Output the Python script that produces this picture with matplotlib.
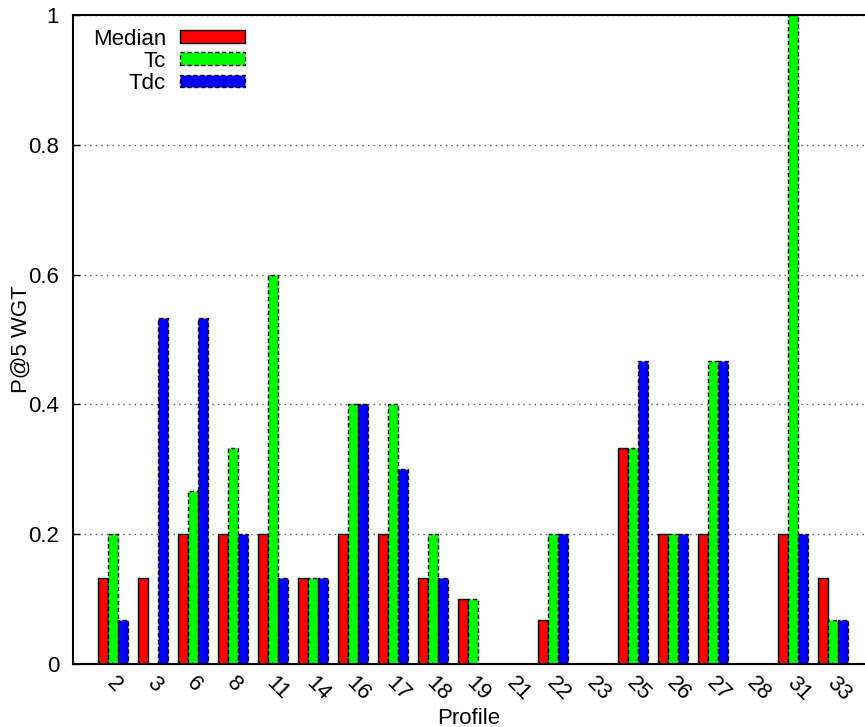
import numpy as np
import matplotlib.pyplot as plt
import matplotlib.transforms as mtransforms
from matplotlib.patches import Patch

plt.rcParams['font.family'] = ['Liberation Sans', 'DejaVu Sans']

# Profiles and P@5 WGT values per method
profiles = ['2', '3', '6', '8', '11', '14', '16', '17', '18', '19',
            '21', '22', '23', '25', '26', '27', '28', '31', '33']
median = [0.133, 0.133, 0.2, 0.2, 0.2, 0.133, 0.2, 0.2, 0.133, 0.1,
          0, 0.067, 0, 0.333, 0.2, 0.2, 0, 0.2, 0.133]
tc = [0.2, 0, 0.267, 0.333, 0.6, 0.133, 0.4, 0.4, 0.2, 0.1,
      0, 0.2, 0, 0.333, 0.2, 0.467, 0, 1.0, 0.067]
tdc = [0.067, 0.533, 0.533, 0.2, 0.133, 0.133, 0.4, 0.3, 0.133, 0,
       0, 0.2, 0, 0.467, 0.2, 0.467, 0, 0.2, 0.067]

x = np.arange(len(profiles))
w = 0.25
fs = 16

fig = plt.figure(figsize=(8.65, 7.27), dpi=100)
ax = fig.add_axes([0.0844, 0.0867, 0.9156, 0.8927])

ax.bar(x - w, median, w, color='#ff0000', edgecolor='black', linewidth=1, label='Median')
ax.bar(x, tc, w, color='#00ff00', edgecolor='black', linewidth=1, linestyle=(0, (3, 2)), label='Tc')
ax.bar(x + w, tdc, w, color='#0000ff', edgecolor='black', linewidth=1, linestyle=(0, (3, 2)), label='Tdc')

ax.set_xlim(-1, 18.8)
ax.set_ylim(0, 1)
ax.set_yticks([0, 0.2, 0.4, 0.6, 0.8, 1])
ax.set_yticklabels(['0', '0.2', '0.4', '0.6', '0.8', '1'])
ax.set_axisbelow(True)
ax.yaxis.grid(True, linestyle=(0, (1, 3)), color='#555555', linewidth=1)

ax.set_xticks(x)
ax.set_xticklabels(profiles, rotation=-45, ha='left', va='top', rotation_mode='anchor')
ax.tick_params(axis='x', length=0, pad=6, labelsize=fs)
ax.tick_params(axis='y', direction='in', length=5, width=1, pad=10, labelsize=fs)
shift = mtransforms.ScaledTranslation(4 / 100, 0, fig.dpi_scale_trans)
for lab in ax.get_xticklabels():
    lab.set_transform(lab.get_transform() + shift)

for s in ['left', 'bottom', 'top']:
    ax.spines[s].set_linewidth(1.5)
ax.spines['right'].set_visible(False)

ax.set_xlabel('Profile', fontsize=fs, labelpad=2)
ax.set_ylabel('P@5 WGT', fontsize=fs, labelpad=-2.5)

handles = [
    Patch(facecolor='#ff0000', edgecolor='black', linewidth=1),
    Patch(facecolor='#00ff00', edgecolor='black', linewidth=1, linestyle=(0, (3, 2))),
    Patch(facecolor='#0000ff', edgecolor='black', linewidth=1, linestyle=(0, (3, 2))),
]
ax.legend(handles, ['Median', 'Tc', 'Tdc'], loc='upper left', bbox_to_anchor=(0.025, 0.979),
          markerfirst=False, frameon=False, fontsize=fs, handlelength=2.93,
          handleheight=0.5, labelspacing=0.05, handletextpad=0.63, borderpad=0,
          borderaxespad=0)

fig.savefig('out.png', dpi=100)
plt.close(fig)
